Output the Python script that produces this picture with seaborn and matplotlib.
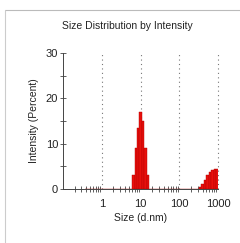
import numpy as np
import pandas as pd
import matplotlib
matplotlib.use("Agg")
import matplotlib.pyplot as plt
from matplotlib.lines import Line2D
from matplotlib.ticker import LogLocator, NullFormatter, MultipleLocator
import seaborn as sns

# size classes (d.nm) and intensity (%)
sizes = [6.50, 7.53, 8.72, 10.10, 11.70, 13.54, 15.69,
         342.0, 396.1, 458.7, 531.2, 615.1, 712.4, 825.0, 955.4]
intensity = [3.0, 9.0, 13.5, 17.0, 15.0, 9.0, 3.0,
             0.4, 1.2, 2.1, 3.0, 3.8, 4.3, 4.5, 4.4]
xticks = [1, 10, 100, 1000]
yticks = [0, 10, 20, 30]

df = pd.DataFrame({"size": sizes, "intensity": intensity})

sns.set_style("ticks")
plt.rcParams["font.family"] = ["Liberation Sans", "DejaVu Sans"]

fig = plt.figure(figsize=(2.40, 2.43), dpi=100)
ax = fig.add_axes([0.2625, 0.222, 0.646, 0.560])

# bin edges in log units, 70 Malvern classes from 0.4 to 10000 nm
step = np.log10(10000 / 0.4) / 69
centers = np.log10(0.4) + step * np.arange(70)
edges = np.append(centers - step / 2, centers[-1] + step / 2)

sns.histplot(data=df, x="size", weights="intensity", bins=edges.tolist(), log_scale=True,
             color="#e8100c", edgecolor="#b00000", linewidth=0.3, alpha=1, ax=ax)

ax.set_xlim(0.1, 1000)
ax.set_ylim(0, 30)
ax.set_xticks(xticks)
ax.set_xticklabels([str(t) for t in xticks])
ax.xaxis.set_minor_locator(LogLocator(base=10, subs=np.arange(2, 10)))
ax.xaxis.set_minor_formatter(NullFormatter())
ax.set_yticks(yticks)
ax.yaxis.set_minor_locator(MultipleLocator(5))

for t in xticks:
    ax.axvline(t, color="#777777", linestyle=(0, (1, 3)), linewidth=0.8,
               zorder=0, clip_on=False)

sns.despine(ax=ax)
for s in ["left", "bottom"]:
    ax.spines[s].set_color("#444444")
    ax.spines[s].set_linewidth(0.7)
ax.tick_params(which="both", direction="inout", color="#444444", width=0.6,
               labelsize=8, labelcolor="#222222", pad=1)
ax.tick_params(which="major", length=5)
ax.tick_params(which="minor", length=4)
ax.tick_params(axis="x", which="major", length=0, pad=7)

ax.set_xlabel("Size (d.nm)", fontsize=7.5, color="#222222", labelpad=3)
ax.set_ylabel("Intensity (Percent)", fontsize=7.5, color="#222222", labelpad=5)
fig.text(0.53, 0.895, "Size Distribution by Intensity", ha="center", va="center",
         fontsize=7.5, color="#222222")

# screenshot frame
fig.add_artist(Line2D([0.02, 1], [0.957, 0.957], color="#bbbbbb", linewidth=0.8))
fig.add_artist(Line2D([0.02, 0.02], [0, 0.957], color="#cccccc", linewidth=0.8))

fig.savefig("out.png", dpi=100)
